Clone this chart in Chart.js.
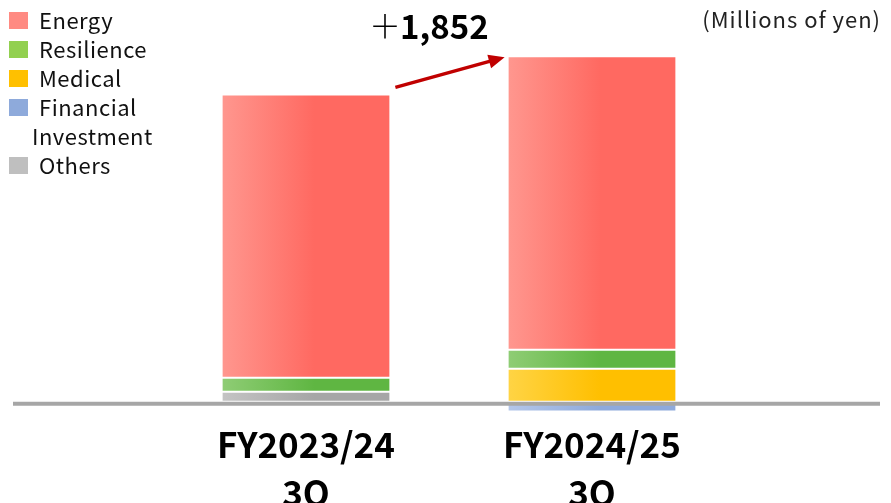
<!DOCTYPE html>
<html>
<head>
<meta charset="utf-8">
<script src="https://cdn.jsdelivr.net/npm/chart.js@4/dist/chart.umd.min.js"></script>
<style>
  html, body { margin: 0; padding: 0; background: #fff; }
  #wrap { width: 891px; height: 503px; position: relative; }
</style>
</head>
<body>
<div id="wrap"><canvas id="salesChart"></canvas></div>
<script>
// data (millions of yen)
const periods = [['FY2023/24', '3Q'], ['FY2024/25', '3Q']];
const energy = [13718, 14215];
const resilience = [678, 920];
const medical = [0, 1597];
const financial = [0, -480];
const others = [484, 0];
const deltaLabel = '1,852';
const unitLabel = '(Millions of yen)';

const FONT = '"Noto Sans CJK JP", "Noto Sans", sans-serif';
const BAR_PCT = 0.59;

// [label, data, light colour, full colour, legend colour]
const seriesDefs = [
  ['Others', others, '#c4c4c4', '#a6a6a6', '#bfbfbf'],
  ['Financial Investment', financial, '#b4c7ea', '#8eaadc', '#8eaadb'],
  ['Medical', medical, '#ffd445', '#ffbf00', '#ffc000'],
  ['Resilience', resilience, '#8fcd75', '#5fb642', '#92d050'],
  ['Energy', energy, '#ff978f', '#ff6961', '#ff8a82']
];

function gradientFill(light, full) {
  return function (ctx) {
    const chart = ctx.chart;
    const xs = chart.scales.x;
    if (!xs || ctx.dataIndex === undefined || !chart.chartArea) return full;
    const cx = xs.getPixelForValue(ctx.dataIndex);
    const half = (xs.width / periods.length) * BAR_PCT / 2;
    if (!isFinite(cx) || !isFinite(half) || half <= 0) return full;
    const g = chart.ctx.createLinearGradient(cx - half, 0, cx + half, 0);
    g.addColorStop(0, light);
    g.addColorStop(0.55, full);
    g.addColorStop(1, full);
    return g;
  };
}

const datasets = seriesDefs.map(function (s) {
  return {
    label: s[0],
    data: s[1],
    backgroundColor: gradientFill(s[2], s[3]),
    legendColor: s[4],
    borderColor: 'rgba(255,255,255,0.75)',
    borderWidth: 1,
    borderSkipped: false,
    barPercentage: BAR_PCT,
    categoryPercentage: 1
  };
});

// baseline, arrow, labels and legend drawn on the canvas
const decorations = {
  id: 'decorations',
  afterDatasetsDraw(chart) {
    const c = chart.ctx;
    const y0 = chart.scales.y.getPixelForValue(0);
    c.save();
    c.strokeStyle = '#a6a6a6';
    c.lineWidth = 4;
    c.beginPath();
    c.moveTo(13, y0 + 2);
    c.lineTo(880, y0 + 2);
    c.stroke();
    c.restore();
  },
  afterDraw(chart) {
    const c = chart.ctx;
    const top = chart.getDatasetMeta(datasets.length - 1).data;
    const b1 = top[0], b2 = top[1];

    // arrow
    const x1 = b1.x + b1.width / 2 + 5, y1 = b1.y - 7;
    const x2 = b2.x - b2.width / 2 - 3, y2 = b2.y + 1;
    const ang = Math.atan2(y2 - y1, x2 - x1);
    c.save();
    c.strokeStyle = '#c00000';
    c.fillStyle = '#c00000';
    c.lineWidth = 3.5;
    c.beginPath();
    c.moveTo(x1, y1);
    c.lineTo(x2 - 12 * Math.cos(ang), y2 - 12 * Math.sin(ang));
    c.stroke();
    c.beginPath();
    c.moveTo(x2, y2);
    c.lineTo(x2 - 16 * Math.cos(ang) + 7 * Math.sin(ang), y2 - 16 * Math.sin(ang) - 7 * Math.cos(ang));
    c.lineTo(x2 - 16 * Math.cos(ang) - 7 * Math.sin(ang), y2 - 16 * Math.sin(ang) + 7 * Math.cos(ang));
    c.closePath();
    c.fill();

    // delta text
    c.fillStyle = '#000';
    c.textBaseline = 'middle';
    c.textAlign = 'left';
    c.font = '300 32px ' + FONT;
    c.fillText('＋', 369, 26);
    c.font = 'bold 33px ' + FONT;
    c.fillText(deltaLabel, 400, 26);

    // unit
    c.font = '22px ' + FONT;
    c.letterSpacing = '1px';
    c.fillStyle = '#222';
    c.textAlign = 'right';
    c.fillText(unitLabel, 881, 20);

    // legend (top to bottom)
    c.textAlign = 'left';
    c.font = '22px ' + FONT;
    c.letterSpacing = '0.5px';
    const order = datasets.slice().reverse();
    let y = 20;
    order.forEach(function (ds) {
      c.fillStyle = ds.legendColor;
      c.fillRect(9, y - 8, 19, 17);
      c.fillStyle = '#111';
      const words = ds.label.split(' ');
      c.fillText(words[0], 39, y + 1);
      if (words.length > 1) {
        y += 29;
        c.fillText(words.slice(1).join(' '), 32, y + 1);
      }
      y += 29;
    });
    c.letterSpacing = '0px';
    c.restore();
  }
};

const ctx = document.getElementById('salesChart').getContext('2d');
const salesChart = new Chart(ctx, {
  type: 'bar',
  data: { labels: periods, datasets: datasets },
  options: {
    responsive: true,
    maintainAspectRatio: false,
    animation: false,
    layout: { padding: { left: 163, right: 156, top: 30, bottom: 0 } },
    plugins: { legend: { display: false }, tooltip: { enabled: false } },
    scales: {
      x: {
        stacked: true,
        grid: { display: false },
        border: { display: false },
        afterFit: function (axis) { axis.height = 91; },
        ticks: {
          color: '#000',
          padding: 1,
          font: { family: FONT, size: 35, weight: 'bold', lineHeight: 1.36 }
        }
      },
      y: {
        stacked: true,
        display: false,
        min: -500,
        max: 18000
      }
    }
  },
  plugins: [decorations]
});
</script>
</body>
</html>
